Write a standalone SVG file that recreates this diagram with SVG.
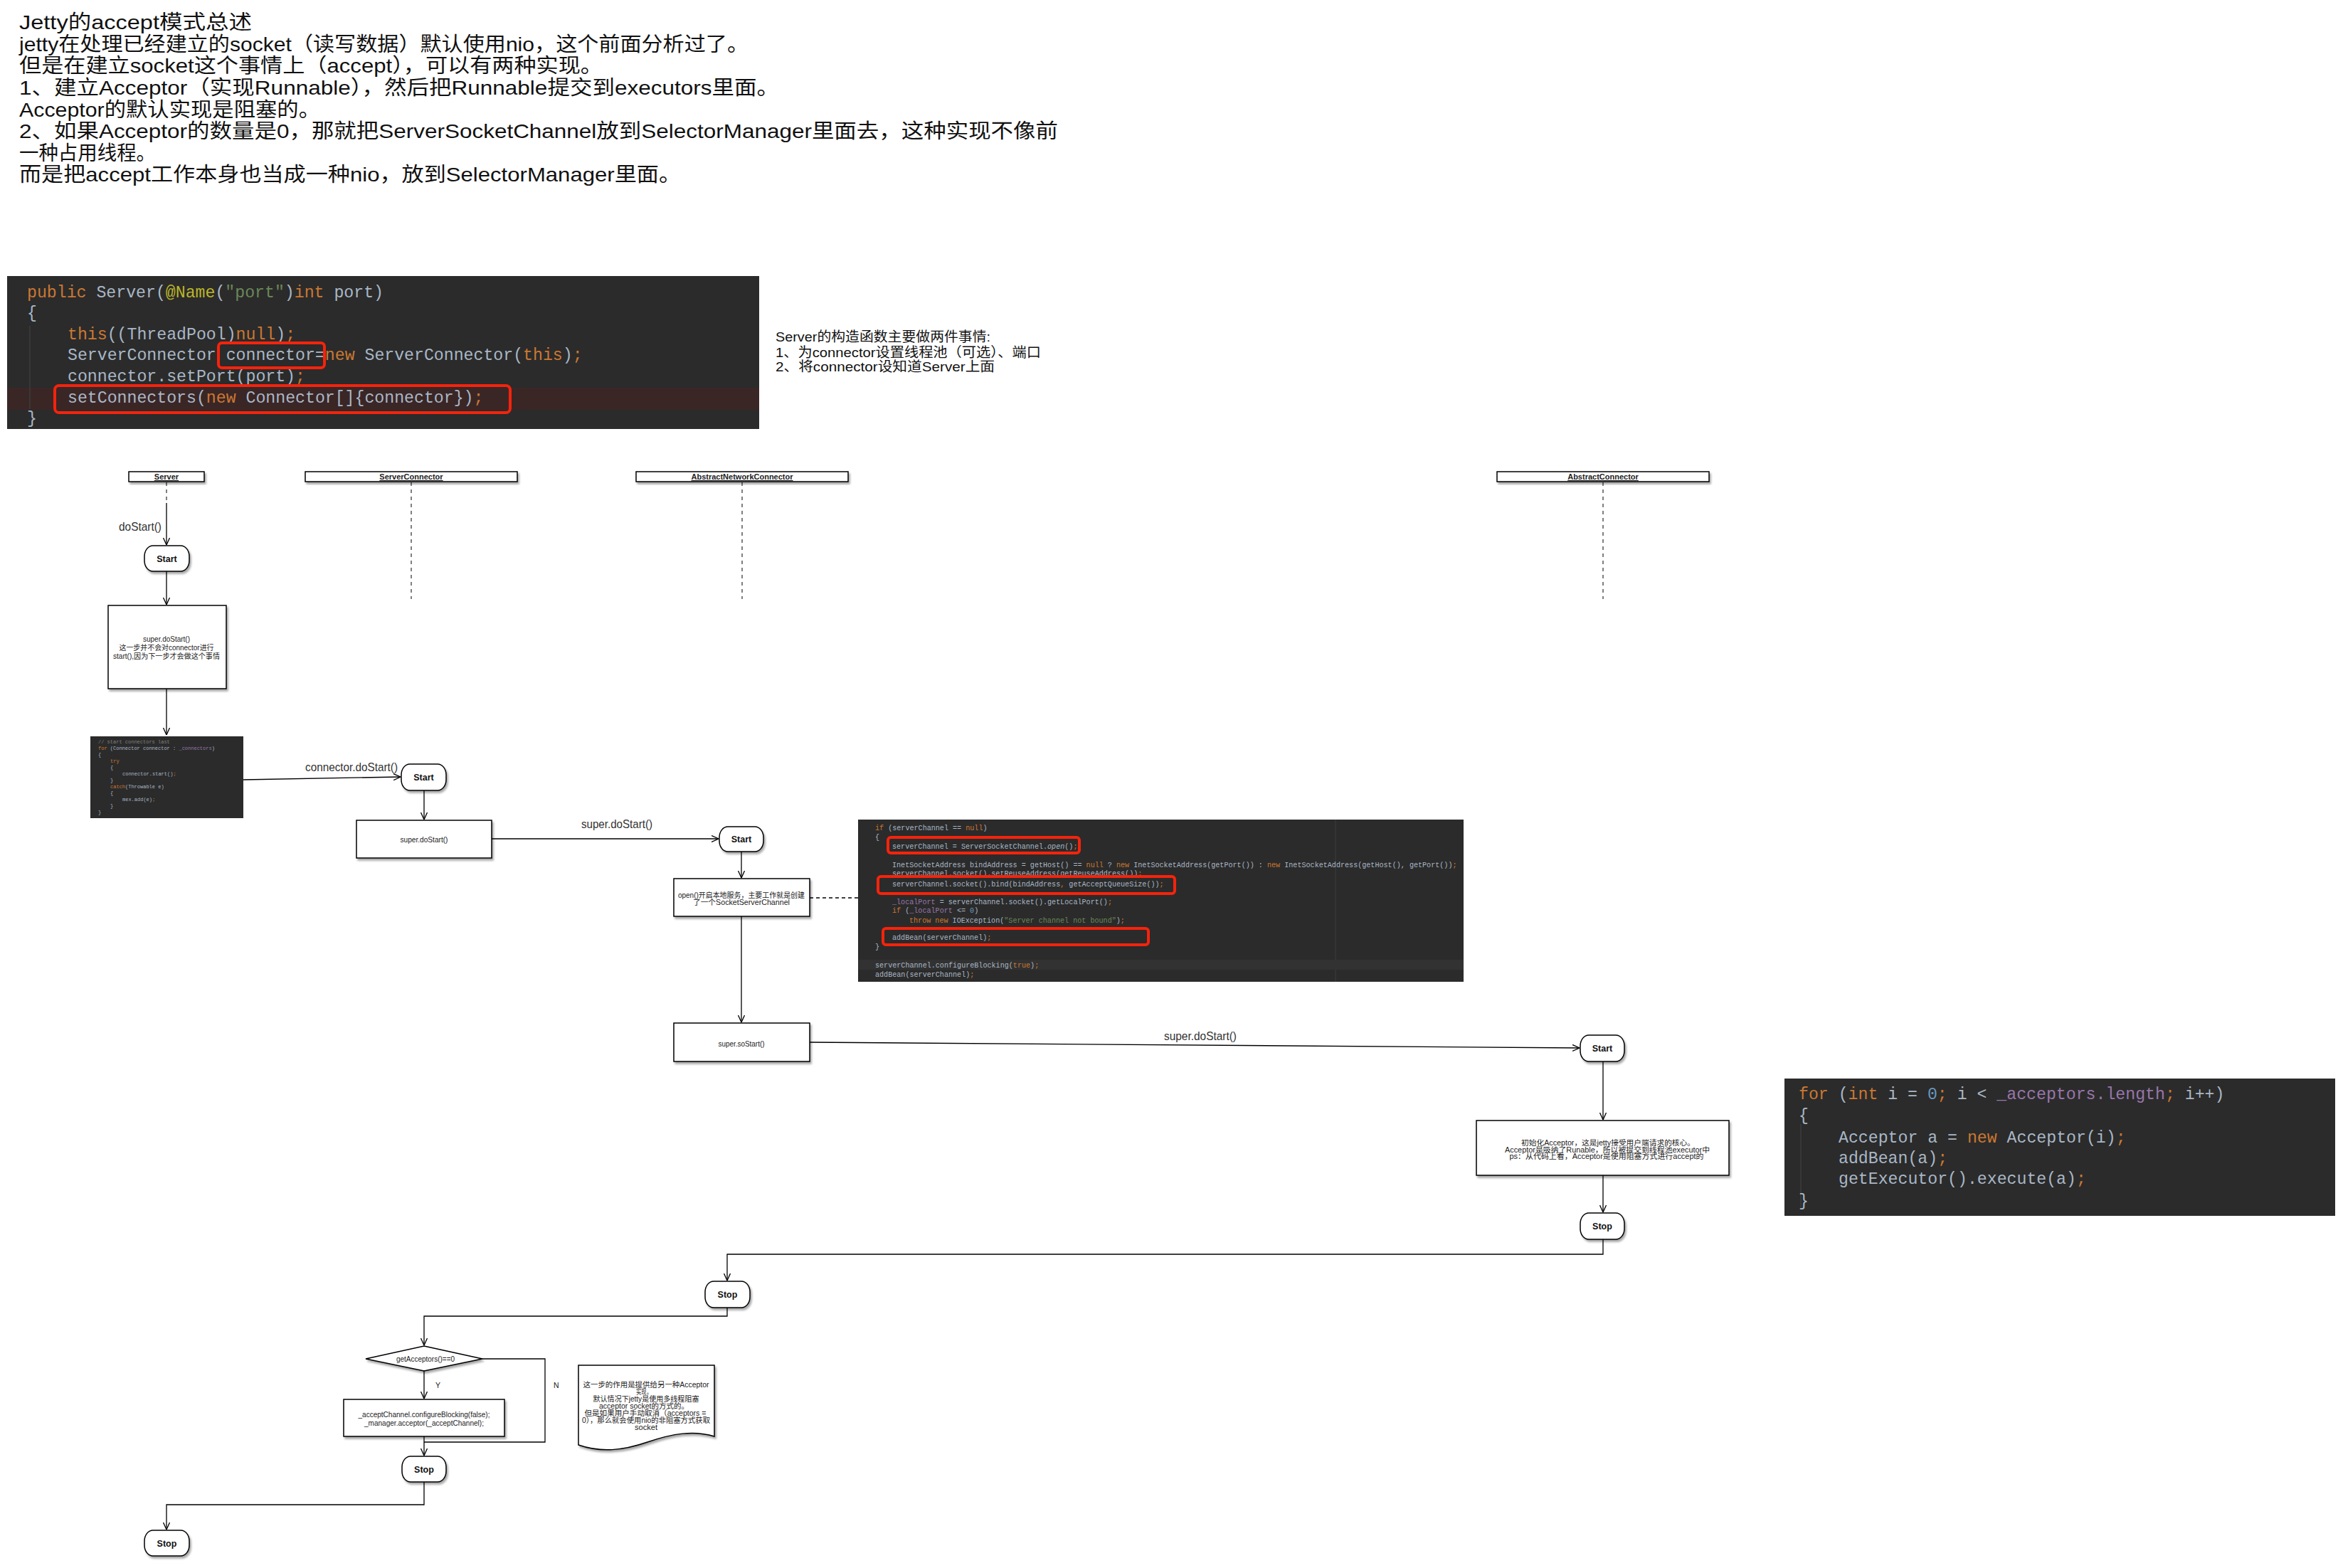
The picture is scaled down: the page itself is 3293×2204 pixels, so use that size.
<svg xmlns="http://www.w3.org/2000/svg" width="3293" height="2204" viewBox="0 0 3293 2204">
<defs>
<style>
.txt{font-family:"Liberation Sans","Noto Sans CJK SC",sans-serif;}
.top{font-size:28px;fill:#111;}
.desc{font-size:19px;fill:#111;}
.code{font-family:"Liberation Mono","DejaVu Sans Mono",monospace;fill:#a9b7c6;}
.k{fill:#cc7832;}
.an{fill:#bbb529;}
.s{fill:#6a8759;}
.n{fill:#6897bb;}
.p{fill:#9876aa;}
.c{fill:#808080;}
.cbg{fill:#2b2b2b;}
.red{fill:none;stroke:#f5230c;stroke-width:4;}
.hdr{fill:#fff;stroke:#000;stroke-width:1.5;}
.hdrt{font-family:"Liberation Sans",sans-serif;font-size:11px;font-weight:bold;fill:#222;text-decoration:underline;}
.life{stroke:#000;stroke-width:1;stroke-dasharray:5,5;fill:none;}
.box{fill:#fff;stroke:#000;stroke-width:1.5;}
.term{fill:#fff;stroke:#000;stroke-width:1.5;}
.termt{font-family:"Liberation Sans",sans-serif;font-size:12.5px;font-weight:bold;fill:#111;}
.nt{font-family:"Liberation Sans","Noto Sans CJK SC",sans-serif;font-size:10.5px;fill:#222;}
.lbl{font-family:"Liberation Sans",sans-serif;font-size:17px;fill:#333;}
.edge{fill:none;stroke:#000;stroke-width:1.3;}
.dash{fill:none;stroke:#000;stroke-width:1.3;stroke-dasharray:5,4;}
</style>
<marker id="arr" viewBox="0 0 10 10" refX="10" refY="5" markerWidth="10" markerHeight="10" markerUnits="userSpaceOnUse" orient="auto">
<path d="M0,0.5 L10,5 L0,9.5" fill="none" stroke="#000" stroke-width="1.3"/>
</marker>
<filter id="sh" x="-10%" y="-10%" width="130%" height="140%">
<feDropShadow dx="2" dy="3" stdDeviation="1.5" flood-color="#000" flood-opacity="0.35"/>
</filter>
</defs>
<rect width="3293" height="2204" fill="#fff"/>

<g id="intro" class="txt top">
<text x="27" y="41" textLength="327" lengthAdjust="spacingAndGlyphs">Jetty的accept模式总述</text>
<text x="27" y="72" textLength="1025" lengthAdjust="spacingAndGlyphs">jetty在处理已经建立的socket（读写数据）默认使用nio，这个前面分析过了。</text>
<text x="27" y="102" textLength="820" lengthAdjust="spacingAndGlyphs">但是在建立socket这个事情上（accept），可以有两种实现。</text>
<text x="27" y="133" textLength="1068" lengthAdjust="spacingAndGlyphs">1、建立Acceptor（实现Runnable），然后把Runnable提交到executors里面。</text>
<text x="27" y="164" textLength="423" lengthAdjust="spacingAndGlyphs">Acceptor的默认实现是阻塞的。</text>
<text x="27" y="194" textLength="1460" lengthAdjust="spacingAndGlyphs">2、如果Acceptor的数量是0，那就把ServerSocketChannel放到SelectorManager里面去，这种实现不像前</text>
<text x="27" y="225" textLength="192" lengthAdjust="spacingAndGlyphs">一种占用线程。</text>
<text x="27" y="255" textLength="930" lengthAdjust="spacingAndGlyphs">而是把accept工作本身也当成一种nio，放到SelectorManager里面。</text>
</g>

<g id="code-server-ctor">
<rect class="cbg" x="10" y="388" width="1057" height="215"/>
<rect x="10" y="545" width="1057" height="31" fill="#3b2626"/>
<line x1="42" y1="458" x2="42" y2="575" stroke="#3c3c3c" stroke-width="1.5"/>
<g class="code" font-size="23.2" xml:space="preserve">
<text x="38" y="418"><tspan class="k">public</tspan> Server(<tspan class="an">@Name</tspan>(<tspan class="s">"port"</tspan>)<tspan class="k">int</tspan> port)</text>
<text x="38" y="447">{</text>
<text x="95" y="477"><tspan class="k">this</tspan>((ThreadPool)<tspan class="k">null</tspan>)<tspan class="k">;</tspan></text>
<text x="95" y="506">ServerConnector connector=<tspan class="k">new</tspan> ServerConnector(<tspan class="k">this</tspan>)<tspan class="k">;</tspan></text>
<text x="95" y="536">connector.setPort(port)<tspan class="k">;</tspan></text>
<text x="95" y="566">setConnectors(<tspan class="k">new</tspan> Connector[]{connector})<tspan class="k">;</tspan></text>
<text x="38" y="595">}</text>
</g>
<rect class="red" x="307" y="482" width="149" height="35" rx="5"/>
<rect class="red" x="77" y="542" width="640" height="38" rx="6"/>
</g>

<g id="ctor-desc" class="txt desc">
<text x="1090" y="480" textLength="302" lengthAdjust="spacingAndGlyphs">Server的构造函数主要做两件事情:</text>
<text x="1090" y="502" textLength="373" lengthAdjust="spacingAndGlyphs">1、为connector设置线程池（可选）、端口</text>
<text x="1090" y="522" textLength="308" lengthAdjust="spacingAndGlyphs">2、将connector设知道Server上面</text>
</g>

<g id="lifeline-server">
<rect class="hdr" x="181" y="663" width="106" height="14" filter="url(#sh)"/>
<text class="hdrt" x="234" y="674" text-anchor="middle">Server</text>
<line class="life" x1="234" y1="678" x2="234" y2="707"/>
</g>
<g id="lifeline-serverconnector">
<rect class="hdr" x="429" y="663" width="298" height="14" filter="url(#sh)"/>
<text class="hdrt" x="578" y="674" text-anchor="middle">ServerConnector</text>
<line class="life" x1="578" y1="678" x2="578" y2="842"/>
</g>
<g id="lifeline-abstractnetworkconnector">
<rect class="hdr" x="894" y="663" width="298" height="14" filter="url(#sh)"/>
<text class="hdrt" x="1043" y="674" text-anchor="middle">AbstractNetworkConnector</text>
<line class="life" x1="1043" y1="678" x2="1043" y2="842"/>
</g>
<g id="lifeline-abstractconnector">
<rect class="hdr" x="2104" y="663" width="298" height="14" filter="url(#sh)"/>
<text class="hdrt" x="2253" y="674" text-anchor="middle">AbstractConnector</text>
<line class="life" x1="2253" y1="678" x2="2253" y2="842"/>
</g>

<g id="start1">
<rect class="term" x="203" y="767" width="63" height="36" rx="12" ry="15" filter="url(#sh)"/>
<text class="termt" x="234.5" y="789.5" text-anchor="middle">Start</text>
</g>
<g id="server-super-dostart">
<rect class="box" x="152" y="851" width="166" height="117" filter="url(#sh)"/>
<text class="nt" x="234" y="902" text-anchor="middle" textLength="66" lengthAdjust="spacingAndGlyphs">super.doStart()</text>
<text class="nt" x="234" y="914" text-anchor="middle" textLength="133" lengthAdjust="spacingAndGlyphs">这一步并不会对connector进行</text>
<text class="nt" x="234" y="926" text-anchor="middle" textLength="150" lengthAdjust="spacingAndGlyphs">start(),因为下一步才会做这个事情</text>
</g>
<g id="code-start-connectors">
<rect class="cbg" x="127" y="1035" width="215" height="115"/>
<g class="code" font-size="7" xml:space="preserve">
<text x="138" y="1045" class="c">// start connectors last</text>
<text x="138" y="1054"><tspan class="k">for</tspan> (Connector connector : <tspan class="p">_connectors</tspan>)</text>
<text x="138" y="1063">{</text>
<text x="155" y="1072" class="k">try</text>
<text x="155" y="1081">{</text>
<text x="172" y="1090">connector.start()<tspan class="k">;</tspan></text>
<text x="155" y="1099">}</text>
<text x="155" y="1108"><tspan class="k">catch</tspan>(Throwable e)</text>
<text x="155" y="1117">{</text>
<text x="172" y="1126">mex.add(e)<tspan class="k">;</tspan></text>
<text x="155" y="1135">}</text>
<text x="138" y="1144">}</text>
</g>
</g>
<g id="start2">
<rect class="term" x="564" y="1074" width="63" height="37" rx="12" ry="15" filter="url(#sh)"/>
<text class="termt" x="595.5" y="1097" text-anchor="middle">Start</text>
</g>
<g id="connector-super-dostart">
<rect class="box" x="501" y="1153" width="190" height="53" filter="url(#sh)"/>
<text class="nt" x="596" y="1184" text-anchor="middle" textLength="67" lengthAdjust="spacingAndGlyphs">super.doStart()</text>
</g>
<g id="start3">
<rect class="term" x="1011" y="1162" width="62" height="35" rx="12" ry="15" filter="url(#sh)"/>
<text class="termt" x="1042" y="1184" text-anchor="middle">Start</text>
</g>
<g id="open-box">
<rect class="box" x="947" y="1235" width="191" height="53" filter="url(#sh)"/>
<text class="nt" x="1042" y="1262" text-anchor="middle" textLength="178" lengthAdjust="spacingAndGlyphs">open()开启本地服务，主要工作就是创建</text>
<text class="nt" x="1042" y="1272" text-anchor="middle" textLength="136" lengthAdjust="spacingAndGlyphs">了一个SocketServerChannel</text>
</g>
<g id="code-open">
<rect class="cbg" x="1206" y="1152" width="851" height="228"/>
<line x1="1877" y1="1152" x2="1877" y2="1380" stroke="#3c3c3c" stroke-width="1"/>
<rect x="1206" y="1349" width="851" height="14" fill="#323232"/>
<g class="code" font-size="10.1" xml:space="preserve">
<text x="1230" y="1167"><tspan class="k">if</tspan> (serverChannel == <tspan class="k">null</tspan>)</text>
<text x="1230" y="1180">{</text>
<text x="1254" y="1193">serverChannel = ServerSocketChannel.<tspan font-style="italic">open</tspan>()<tspan class="k">;</tspan></text>
<text x="1254" y="1219">InetSocketAddress bindAddress = getHost() == <tspan class="k">null</tspan> ? <tspan class="k">new</tspan> InetSocketAddress(getPort()) : <tspan class="k">new</tspan> InetSocketAddress(getHost(), getPort())<tspan class="k">;</tspan></text>
<text x="1254" y="1231">serverChannel.socket().setReuseAddress(getReuseAddress())<tspan class="k">;</tspan></text>
<text x="1254" y="1246">serverChannel.socket().bind(bindAddress<tspan class="k">,</tspan> getAcceptQueueSize())<tspan class="k">;</tspan></text>
<text x="1254" y="1271"><tspan class="p">_localPort</tspan> = serverChannel.socket().getLocalPort()<tspan class="k">;</tspan></text>
<text x="1254" y="1283"><tspan class="k">if</tspan> (<tspan class="p">_localPort</tspan> &lt;= <tspan class="n">0</tspan>)</text>
<text x="1278" y="1297"><tspan class="k">throw new</tspan> IOException(<tspan class="s">"Server channel not bound"</tspan>)<tspan class="k">;</tspan></text>
<text x="1254" y="1321">addBean(serverChannel)<tspan class="k">;</tspan></text>
<text x="1230" y="1334">}</text>
<text x="1230" y="1360">serverChannel.configureBlocking(<tspan class="k">true</tspan>)<tspan class="k">;</tspan></text>
<text x="1230" y="1373">addBean(serverChannel)<tspan class="k">;</tspan></text>
</g>
<rect class="red" x="1248" y="1177" width="269" height="22" rx="4" stroke-width="3"/>
<rect class="red" x="1234" y="1232" width="417" height="24" rx="4" stroke-width="3"/>
<rect class="red" x="1241" y="1305" width="373" height="23" rx="4" stroke-width="3"/>
</g>
<g id="sostart-box">
<rect class="box" x="947" y="1438" width="191" height="54" filter="url(#sh)"/>
<text class="nt" x="1042" y="1471" text-anchor="middle" textLength="65" lengthAdjust="spacingAndGlyphs">super.soStart()</text>
</g>
<g id="start4">
<rect class="term" x="2221" y="1455" width="62" height="37" rx="12" ry="15" filter="url(#sh)"/>
<text class="termt" x="2252" y="1478" text-anchor="middle">Start</text>
</g>
<g id="acceptor-box">
<rect class="box" x="2075" y="1575" width="355" height="77" filter="url(#sh)"/>
<text class="nt" x="2260" y="1610" text-anchor="middle" textLength="244" lengthAdjust="spacingAndGlyphs">初始化Acceptor，这是jetty接受用户端请求的核心。</text>
<text class="nt" x="2259" y="1620" text-anchor="middle" textLength="288" lengthAdjust="spacingAndGlyphs">Acceptor是吸纳了Runable，所以被提交到线程池executor中</text>
<text class="nt" x="2258" y="1629" text-anchor="middle" textLength="273" lengthAdjust="spacingAndGlyphs">ps：从代码上看，Acceptor是使用阻塞方式进行accept的</text>
</g>
<g id="code-acceptors">
<rect class="cbg" x="2508" y="1516" width="774" height="193"/>
<line x1="2531" y1="1580" x2="2531" y2="1697" stroke="#3c3c3c" stroke-width="1.5"/>
<g class="code" font-size="23.2" xml:space="preserve">
<text x="2528" y="1545"><tspan class="k">for</tspan> (<tspan class="k">int</tspan> i = <tspan class="n">0</tspan><tspan class="k">;</tspan> i &lt; <tspan class="p">_acceptors.length</tspan><tspan class="k">;</tspan> i++)</text>
<text x="2528" y="1575">{</text>
<text x="2584" y="1606">Acceptor a = <tspan class="k">new</tspan> Acceptor(i)<tspan class="k">;</tspan></text>
<text x="2584" y="1635">addBean(a)<tspan class="k">;</tspan></text>
<text x="2584" y="1664">getExecutor().execute(a)<tspan class="k">;</tspan></text>
<text x="2528" y="1695">}</text>
</g>
</g>
<g id="stop-acceptor">
<rect class="term" x="2221" y="1705" width="62" height="37" rx="12" ry="15" filter="url(#sh)"/>
<text class="termt" x="2252" y="1728" text-anchor="middle">Stop</text>
</g>
<g id="stop-network">
<rect class="term" x="991" y="1801" width="63" height="37" rx="12" ry="15" filter="url(#sh)"/>
<text class="termt" x="1022.5" y="1824" text-anchor="middle">Stop</text>
</g>
<g id="decision">
<polygon points="596,1892 678,1910 596,1927 514,1910" class="box" filter="url(#sh)"/>
<text class="nt" x="598" y="1914" text-anchor="middle" textLength="82" lengthAdjust="spacingAndGlyphs">getAcceptors()==0</text>
</g>
<g id="accept-channel-box">
<rect class="box" x="483" y="1967" width="226" height="52" filter="url(#sh)"/>
<text class="nt" x="596" y="1992" text-anchor="middle" textLength="185" lengthAdjust="spacingAndGlyphs">_acceptChannel.configureBlocking(false);</text>
<text class="nt" x="596" y="2004" text-anchor="middle" textLength="168" lengthAdjust="spacingAndGlyphs">_manager.acceptor(_acceptChannel);</text>
</g>
<g id="note">
<path class="box" d="M813,1919 H1004 V2019 C975,2010 945,2015 910,2027 C875,2039 845,2042 813,2031 Z" filter="url(#sh)"/>
<text class="nt" x="908" y="1950" text-anchor="middle" textLength="177" lengthAdjust="spacingAndGlyphs">这一步的作用是提供给另一种Acceptor</text>
<text class="nt" x="905" y="1960" text-anchor="middle" textLength="22" lengthAdjust="spacingAndGlyphs">实现，</text>
<text class="nt" x="908" y="1970" text-anchor="middle" textLength="149" lengthAdjust="spacingAndGlyphs">默认情况下jetty是使用多线程阻塞</text>
<text class="nt" x="905" y="1980" text-anchor="middle" textLength="126" lengthAdjust="spacingAndGlyphs">acceptor socket的方式的。</text>
<text class="nt" x="907" y="1990" text-anchor="middle" textLength="171" lengthAdjust="spacingAndGlyphs">但是如果用户手动取消（acceptors =</text>
<text class="nt" x="908" y="2000" text-anchor="middle" textLength="180" lengthAdjust="spacingAndGlyphs">0），那么就会使用nio的非阻塞方式获取</text>
<text class="nt" x="908" y="2010" text-anchor="middle" textLength="32" lengthAdjust="spacingAndGlyphs">socket</text>
</g>
<g id="stop-server-connector">
<rect class="term" x="565" y="2047" width="62" height="36" rx="12" ry="15" filter="url(#sh)"/>
<text class="termt" x="596" y="2069.5" text-anchor="middle">Stop</text>
</g>
<g id="stop-server">
<rect class="term" x="203" y="2151" width="63" height="36" rx="12" ry="15" filter="url(#sh)"/>
<text class="termt" x="234.5" y="2173.5" text-anchor="middle">Stop</text>
</g>

<g id="connectors">
<path class="edge" d="M234,707 V766" marker-end="url(#arr)"/>
<text class="lbl" x="167" y="746" textLength="60" lengthAdjust="spacingAndGlyphs">doStart()</text>
<path class="edge" d="M234,803 V850" marker-end="url(#arr)"/>
<path class="edge" d="M234,968 V1033" marker-end="url(#arr)"/>
<path class="edge" d="M342,1096 L563,1092" marker-end="url(#arr)"/>
<text class="lbl" x="429" y="1084" textLength="130" lengthAdjust="spacingAndGlyphs">connector.doStart()</text>
<path class="edge" d="M596,1111 V1152" marker-end="url(#arr)"/>
<path class="edge" d="M691,1179 H1010" marker-end="url(#arr)"/>
<text class="lbl" x="817" y="1164" textLength="100" lengthAdjust="spacingAndGlyphs">super.doStart()</text>
<path class="edge" d="M1042,1197 V1234" marker-end="url(#arr)"/>
<path class="dash" d="M1138,1262 H1206"/>
<path class="edge" d="M1042,1288 V1437" marker-end="url(#arr)"/>
<path class="edge" d="M1138,1465 L2220,1473" marker-end="url(#arr)"/>
<text class="lbl" x="1636" y="1462" textLength="102" lengthAdjust="spacingAndGlyphs">super.doStart()</text>
<path class="edge" d="M2253,1492 V1574" marker-end="url(#arr)"/>
<path class="edge" d="M2253,1652 V1704" marker-end="url(#arr)"/>
<path class="edge" d="M2253,1742 V1763 H1022 V1800" marker-end="url(#arr)"/>
<path class="edge" d="M1022,1838 V1850 H596 V1891" marker-end="url(#arr)"/>
<path class="edge" d="M596,1927 V1966" marker-end="url(#arr)"/>
<text class="nt" x="612" y="1951" font-size="11">Y</text>
<path class="edge" d="M678,1910 H766 V2027 H596"/>
<text class="nt" x="778" y="1951" font-size="11">N</text>
<path class="edge" d="M596,2019 V2046" marker-end="url(#arr)"/>
<path class="edge" d="M596,2083 V2115 H234 V2150" marker-end="url(#arr)"/>
</g>
</svg>
